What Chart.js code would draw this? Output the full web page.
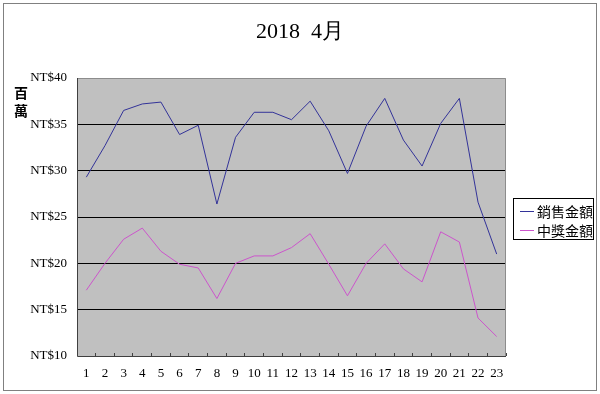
<!DOCTYPE html>
<html lang="zh-Hant">

<head>
    <meta charset="UTF-8">
    <title>2018 4月</title>
    <style>
        body { margin: 0; background: #fff; }
    </style>
</head>

<body>
    <canvas id="chart" width="600" height="394"></canvas>
</body>

<script src="https://cdn.jsdelivr.net/npm/chart.js@4.4.0/dist/chart.umd.min.js"></script>

<script type="text/javascript" charset="utf-8">
    // data (millions NT$)
    var days = ['1', '2', '3', '4', '5', '6', '7', '8', '9', '10', '11', '12',
        '13', '14', '15', '16', '17', '18', '19', '20', '21', '22', '23'];
    var sales = [29.3, 32.7, 36.5, 37.2, 37.4, 33.9, 34.9, 26.4, 33.6, 36.3, 36.3, 35.5,
        37.5, 34.3, 29.7, 34.8, 37.8, 33.3, 30.5, 35.1, 37.8, 26.6, 21.0];
    var prizes = [17.1, 20.0, 22.6, 23.8, 21.3, 19.9, 19.5, 16.2, 20.0, 20.8, 20.8, 21.7,
        23.2, 19.9, 16.5, 20.0, 22.1, 19.4, 18.0, 23.4, 22.3, 14.1, 12.1];
    var seriesNames = ['銷售金額', '中獎金額'];
    var yTicks = [10, 15, 20, 25, 30, 35, 40];

    var serif = "'Liberation Serif', 'Times New Roman', serif";
    var cjk = "'Noto Sans CJK TC', 'Noto Sans CJK SC', sans-serif";

    // background, plot fill, frame, y title and boxed legend
    var decor = {
        id: 'decor',
        beforeDraw: function (chart) {
            var ctx = chart.ctx, a = chart.chartArea;
            ctx.save();
            ctx.fillStyle = '#fff';
            ctx.fillRect(0, 0, chart.width, chart.height);
            ctx.fillStyle = '#c0c0c0';
            ctx.fillRect(a.left, a.top, a.right - a.left, a.bottom - a.top);
            ctx.restore();
        },
        afterDatasetsDraw: function (chart) {
            var ctx = chart.ctx, a = chart.chartArea;
            ctx.save();
            ctx.lineWidth = 1;
            // top / right edge of plot
            ctx.strokeStyle = '#8c8c8c';
            ctx.beginPath();
            ctx.moveTo(a.left, a.top + 0.5);
            ctx.lineTo(a.right - 0.5, a.top + 0.5);
            ctx.lineTo(a.right - 0.5, a.bottom);
            ctx.stroke();
            // axis lines
            ctx.strokeStyle = '#404040';
            ctx.beginPath();
            ctx.moveTo(a.left + 0.5, a.top);
            ctx.lineTo(a.left + 0.5, a.bottom + 0.5);
            ctx.lineTo(a.right, a.bottom + 0.5);
            ctx.stroke();
            ctx.restore();
        },
        afterDraw: function (chart) {
            var ctx = chart.ctx;
            ctx.save();
            // outer frame
            ctx.strokeStyle = '#808080';
            ctx.lineWidth = 1;
            ctx.strokeRect(3.5, 3.5, 593, 387);

            // y axis title, stacked
            ctx.fillStyle = '#000';
            ctx.font = 'bold 14px ' + cjk;
            ctx.textAlign = 'center';
            ctx.textBaseline = 'middle';
            ctx.fillText('百', 21, 93);
            ctx.fillText('萬', 21, 111);

            // legend box
            ctx.strokeStyle = '#000';
            ctx.strokeRect(513.5, 198.5, 80, 41);
            ctx.font = '14px ' + cjk;
            ctx.textAlign = 'left';
            chart.data.datasets.forEach(function (ds, i) {
                var y = 211 + i * 19;
                ctx.strokeStyle = ds.borderColor;
                ctx.beginPath();
                ctx.moveTo(520, y + 0.5);
                ctx.lineTo(534, y + 0.5);
                ctx.stroke();
                ctx.fillStyle = '#000';
                ctx.fillText(ds.label, 537, y + 1);
            });
            ctx.restore();
        }
    };

    var chart = new Chart(document.getElementById('chart').getContext('2d'), {
        type: 'line',
        data: {
            labels: days,
            datasets: [{
                label: seriesNames[0],
                data: sales,
                borderColor: '#333399',
                borderWidth: 1,
                pointRadius: 0,
                tension: 0
            }, {
                label: seriesNames[1],
                data: prizes,
                borderColor: '#cc55cc',
                borderWidth: 1,
                pointRadius: 0,
                tension: 0
            }]
        },
        options: {
            responsive: false,
            animation: false,
            devicePixelRatio: 1,
            layout: { padding: 0 },
            plugins: {
                legend: { display: false },
                tooltip: { enabled: false },
                title: {
                    display: true,
                    text: '2018  4月',
                    color: '#000',
                    font: { family: serif, size: 22, weight: 'normal' },
                    padding: { top: 19, bottom: 32.6 }
                }
            },
            scales: {
                x: {
                    offset: true,
                    afterFit: function (s) { s.height = 38; },
                    border: { display: false },
                    grid: {
                        offset: true,
                        drawOnChartArea: false,
                        drawTicks: true,
                        tickLength: -3,
                        color: '#404040'
                    },
                    ticks: {
                        color: '#000',
                        font: { family: serif, size: 13 },
                        padding: 13,
                        maxRotation: 0,
                        autoSkip: false
                    }
                },
                y: {
                    min: yTicks[0],
                    max: yTicks[yTicks.length - 1],
                    afterFit: function (s) { s.width = 77; },
                    afterBuildTicks: function (s) {
                        s.ticks = yTicks.map(function (v) { return { value: v }; });
                    },
                    border: { display: false },
                    grid: {
                        drawTicks: false,
                        color: function (c) {
                            var v = c.tick ? c.tick.value : null;
                            return (v > yTicks[0] && v < yTicks[yTicks.length - 1]) ? '#000' : 'rgba(0,0,0,0)';
                        }
                    },
                    ticks: {
                        color: '#000',
                        font: { family: serif, size: 13 },
                        padding: 10,
                        callback: function (v) { return 'NT$' + v; }
                    }
                },
                // empty right axis that keeps room for the legend box
                yRight: {
                    position: 'right',
                    display: true,
                    afterFit: function (s) { s.width = 94; },
                    border: { display: false },
                    grid: { display: false },
                    ticks: { display: false }
                }
            }
        },
        plugins: [decor]
    });
</script>

</html>
